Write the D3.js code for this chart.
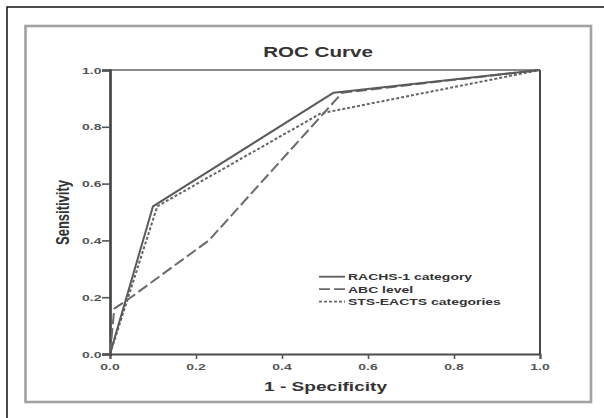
<!DOCTYPE html>
<html>
<head>
<meta charset="utf-8">
<script src="https://cdn.jsdelivr.net/npm/d3@7"></script>
<style>
  html, body { margin: 0; padding: 0; background: #fff; }
  svg { display: block; }
  text { font-family: Arial, "Liberation Sans", sans-serif; }
</style>
</head>
<body>
<script>
// ROC curves for three risk-stratification scores
const xTicks = [0.0, 0.2, 0.4, 0.6, 0.8, 1.0];
const yTicks = [0.0, 0.2, 0.4, 0.6, 0.8, 1.0];

const seriesNames = ["RACHS-1 category", "ABC level", "STS-EACTS categories"];

const rachsFpr = [0.0, 0.10, 0.52, 1.0];
const rachsTpr = [0.0, 0.52, 0.92, 1.0];

const abcFpr = [0.0, 0.01, 0.04, 0.23, 0.54, 1.0];
const abcTpr = [0.0, 0.16, 0.19, 0.40, 0.92, 1.0];

const stsFpr = [0.0, 0.11, 0.49, 1.0];
const stsTpr = [0.0, 0.52, 0.847, 1.0];

const W = 604, H = 418;
const stretch = 1.47; // glyphs are drawn wide

const svg = d3.select("body").append("svg")
  .attr("width", W).attr("height", H);

// outer border (left and top edges)
svg.append("path")
  .attr("d", "M7,418 L7,7 L604,7")
  .attr("fill", "none").attr("stroke", "#111").attr("stroke-width", 1.5);

// grey panel frame
svg.append("rect")
  .attr("x", 25.5).attr("y", 26).attr("width", 565.5).attr("height", 376)
  .attr("fill", "none").attr("stroke", "#a2a2a2").attr("stroke-width", 2.6);

const x = d3.scaleLinear().domain([0, 1]).range([110, 540]);
const y = d3.scaleLinear().domain([0, 1]).range([354, 70]);

function wideText(g, tx, ty, str, opts = {}) {
  const t = g.append("text")
    .attr("transform", `translate(${tx},${ty}) scale(${stretch},1)` + (opts.rotate ? ` rotate(${opts.rotate})` : ""))
    .attr("text-anchor", opts.anchor || "start")
    .attr("font-size", opts.size || 10)
    .attr("font-weight", opts.weight || "bold")
    .attr("fill", opts.fill || "#333")
    .text(str);
  return t;
}

// plot box: top and right edges
svg.append("line").attr("x1", x(0)).attr("x2", x(1)).attr("y1", y(1)).attr("y2", y(1))
  .attr("stroke", "#8a8a8a").attr("stroke-width", 2);
svg.append("line").attr("x1", x(1)).attr("x2", x(1)).attr("y1", y(1)).attr("y2", y(0))
  .attr("stroke", "#4a4a4a").attr("stroke-width", 2);

// x axis
const xAxis = svg.append("g").attr("transform", `translate(0,${y(0)})`)
  .call(d3.axisBottom(x).tickValues(xTicks).tickSize(5).tickFormat(() => ""));
xAxis.select(".domain").attr("stroke", "#4a4a4a").attr("stroke-width", 2);
xAxis.selectAll(".tick line").attr("stroke", "#555").attr("stroke-width", 1.6);
xTicks.forEach(v => wideText(svg, x(v), 370, d3.format(".1f")(v),
  { anchor: "middle", size: 9.5, fill: "#555" }));

// y axis
const yAxis = svg.append("g").attr("transform", `translate(${x(0)},0)`)
  .call(d3.axisLeft(y).tickValues(yTicks).tickSize(8).tickFormat(() => ""));
yAxis.select(".domain").attr("stroke", "#3f3f3f").attr("stroke-width", 2.6);
yAxis.selectAll(".tick line").attr("stroke", "#555").attr("stroke-width", 1.6);
yTicks.forEach(v => wideText(svg, 101.5, y(v) + 3.5, d3.format(".1f")(v),
  { anchor: "end", size: 9.5, fill: "#555" }));

// titles
wideText(svg, 318, 57, "ROC Curve", { anchor: "middle", size: 14, fill: "#333" });
wideText(svg, 325.5, 391, "1 - Specificity", { anchor: "middle", size: 13, fill: "#333" });
wideText(svg, 69, 212.5, "Sensitivity", { anchor: "middle", size: 13, fill: "#333", rotate: -90 });

// curves
const styles = [
  { dash: null, color: "#5a5a5a" },
  { dash: "11,4", color: "#6a6a6a" },
  { dash: "3,2", color: "#666" }
];
const series = [
  d3.zip(rachsFpr, rachsTpr),
  d3.zip(abcFpr, abcTpr),
  d3.zip(stsFpr, stsTpr)
];
const line = d3.line().x(d => x(d[0])).y(d => y(d[1]));

[2, 1, 0].forEach(i => {
  svg.append("path")
    .datum(series[i])
    .attr("d", line)
    .attr("fill", "none")
    .attr("stroke", styles[i].color)
    .attr("stroke-width", 2)
    .attr("stroke-dasharray", styles[i].dash)
    .attr("stroke-linejoin", "round");
});

// legend
const legendY = [276.7, 289.2, 301.7];
seriesNames.forEach((name, i) => {
  svg.append("line")
    .attr("x1", 319).attr("x2", 345)
    .attr("y1", legendY[i]).attr("y2", legendY[i])
    .attr("stroke", styles[i].color).attr("stroke-width", 1.8)
    .attr("stroke-dasharray", styles[i].dash);
  wideText(svg, 348, legendY[i] + 3.5, name, { size: 9.5, fill: "#333" });
});
</script>
</body>
</html>
